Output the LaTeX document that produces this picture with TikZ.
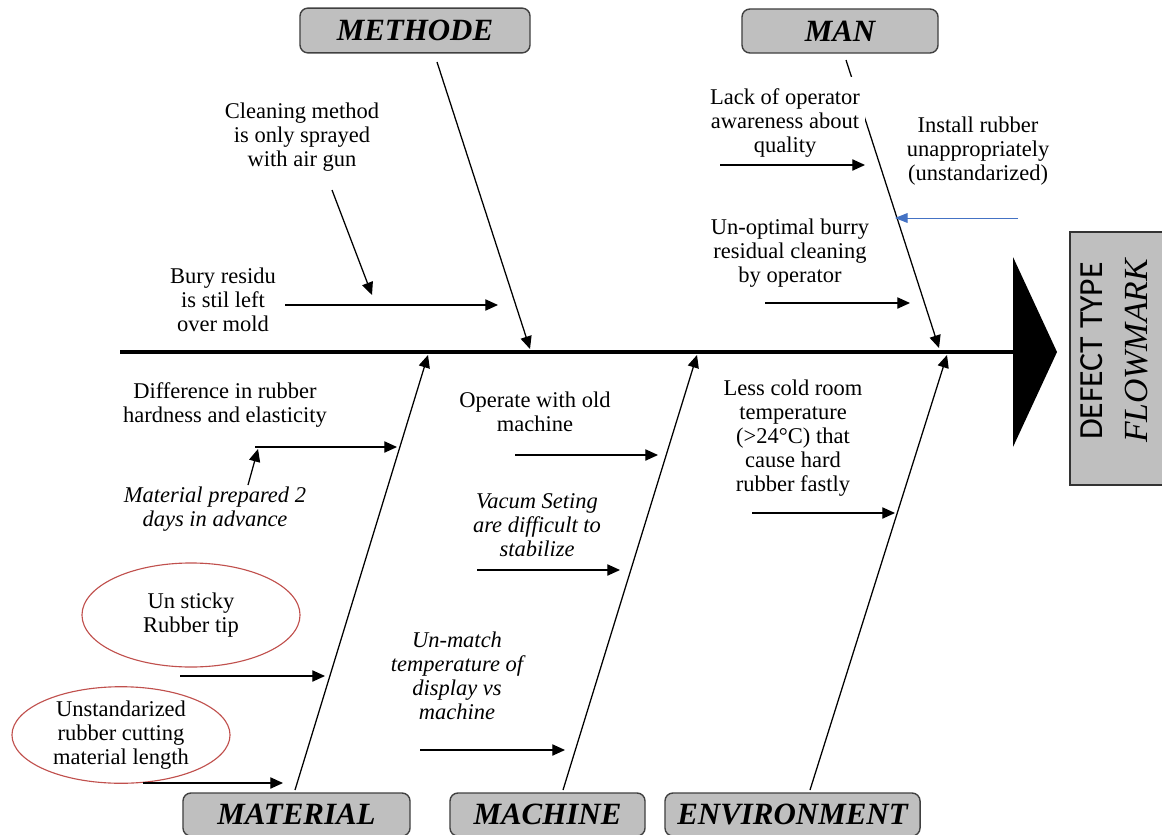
\documentclass[tikz,border=0pt]{standalone}
\usepackage{fontspec}
\setmainfont{Liberation Serif}
\newfontfamily\defectfont{Carlito}
\usepackage{xcolor}
\usetikzlibrary{arrows.meta,shapes.geometric}

\definecolor{boxgray}{RGB}{191,191,191}
\definecolor{ovalred}{RGB}{192,80,77}
\definecolor{arrowblue}{RGB}{68,114,196}

\tikzset{
  category/.style={draw=black!75, line width=1pt, fill=boxgray, rounded corners=0.2cm, inner sep=0pt, font=\fontsize{22}{24}\selectfont\bfseries\itshape},
  bone/.style={line width=0.9pt, -{Triangle[length=9pt,width=8pt]}},
  cause/.style={align=center, inner sep=1pt, font=\fontsize{16}{17}\selectfont},
  oval/.style={ellipse, draw=ovalred, line width=0.8pt, align=center, inner sep=0pt, font=\fontsize{16}{17}\selectfont}
}

\begin{document}
\begin{tikzpicture}[x=0.025cm, y=-0.025cm]
        \useasboundingbox (0,0) rectangle (1162,834);

        % categories
        \node[category, minimum width=5.75cm, minimum height=1.12cm] (methode) at (415,30.5) {METHODE};
        \node[category, minimum width=4.9cm, minimum height=1.1cm] (man) at (840,31) {MAN};
        \node[category, minimum width=5.675cm, minimum height=1.075cm] (material) at (296.5,814.5) {MATERIAL};
        \node[category, minimum width=4.875cm, minimum height=1.075cm] (machine) at (547.5,814.5) {MACHINE};
        \node[category, minimum width=6.375cm, minimum height=1.075cm] (environment) at (792.5,814.5) {ENVIRONMENT};

        % effect
        \node[draw=black!80, fill=boxgray, line width=0.8pt, minimum width=2.6cm, minimum height=6.325cm, inner sep=0pt] (effect) at (1122,358.5) {};
        \node[rotate=90, font=\defectfont\fontsize{24}{25}\selectfont] (dtype) at (1092,351) {DEFECT TYPE};
        \node[rotate=90, font=\fontsize{24}{26}\selectfont\itshape] (fmark) at (1137,351) {FLOWMARK};

        % spine and head
        \coordinate (S0) at (120,352);
        \coordinate (S1) at (1013,352);
        \coordinate (H1) at (1013,257);
        \coordinate (H2) at (1013,447);
        \coordinate (H3) at (1057,352);
        \draw[line width=3.3pt] (S0) -- (S1);
        \fill (H1) -- (H3) -- (H2) -- cycle;

        % bones
        \coordinate (B1) at (437,62);   \coordinate (E1) at (530,349);
        \coordinate (B2) at (846,60);   \coordinate (E2) at (939,348);
        \coordinate (B3) at (295,790);  \coordinate (E3) at (428,355);
        \coordinate (B4) at (563,790);  \coordinate (E4) at (697,355);
        \coordinate (B5) at (810,790);  \coordinate (E5) at (947,355);
        \foreach \i in {1,...,5}
            \draw[bone] (B\i) -- (E\i);

        % texts
        \node[cause] (clean) at (302,137) {Cleaning method\\is only sprayed\\with air gun};
        \node[cause] (bury) at (223,300) {Bury residu\\is stil left\\over mold};
        \node[cause, fill=white, inner xsep=0.13cm, inner ysep=0.3cm] (lack) at (785,123) {Lack of operator\\awareness about\\quality};
        \node[cause] (install) at (978,151) {Install rubber\\unappropriately\\(unstandarized)};
        \node[cause] (unopt) at (790,253) {Un-optimal burry\\residual cleaning\\by operator};
        \node[cause] (diff) at (225,405) {Difference in rubber\\hardness and elasticity};
        \node[cause, font=\fontsize{16}{17}\selectfont\itshape] (prep) at (215,509) {Material prepared 2\\days in advance};
        \node[oval, minimum width=5.45cm, minimum height=2.6cm] (sticky) at (191,615) {Un sticky\\Rubber tip};
        \node[oval, minimum width=5.45cm, minimum height=2.4cm] (cutting) at (121,735) {Unstandarized\\rubber cutting\\material length};
        \node[cause] (old) at (535,412) {Operate with old\\machine};
        \node[cause, font=\fontsize{16}{17}\selectfont\itshape] (vacum) at (537,525) {Vacum Seting\\are difficult to\\stabilize};
        \node[cause, font=\fontsize{16}{17}\selectfont\itshape] (unmatch) at (457,676) {Un-match\\temperature of\\display vs\\machine};
        \node[cause] (cold) at (793,438) {Less cold room\\temperature\\(>24°C) that\\cause hard\\rubber fastly};

        % sub causes
        \coordinate (C1) at (332,190);  \coordinate (D1) at (372,295);
        \coordinate (C2) at (285,305);  \coordinate (D2) at (498,305);
        \coordinate (C3) at (720,165);  \coordinate (D3) at (865,165);
        \coordinate (C4) at (765,303);  \coordinate (D4) at (910,303);
        \coordinate (C5) at (255,447);  \coordinate (D5) at (397,447);
        \coordinate (C6) at (248,485);  \coordinate (D6) at (258,449);
        \coordinate (C7) at (180,676);  \coordinate (D7) at (325,676);
        \coordinate (C8) at (143,783);  \coordinate (D8) at (283,783);
        \coordinate (C9) at (515,455);  \coordinate (D9) at (658,455);
        \coordinate (C10) at (477,570); \coordinate (D10) at (620,570);
        \coordinate (C11) at (420,750); \coordinate (D11) at (565,750);
        \coordinate (C12) at (752,513); \coordinate (D12) at (895,513);
        \foreach \i in {1,...,12}
            \draw[bone] (C\i) -- (D\i);
        \coordinate (C13) at (1018,218); \coordinate (D13) at (895,218);
        \draw[line width=0.7pt, draw=arrowblue, -{Triangle[length=9pt,width=7pt]}] (C13) -- (D13);

    \end{tikzpicture}
\end{document}
